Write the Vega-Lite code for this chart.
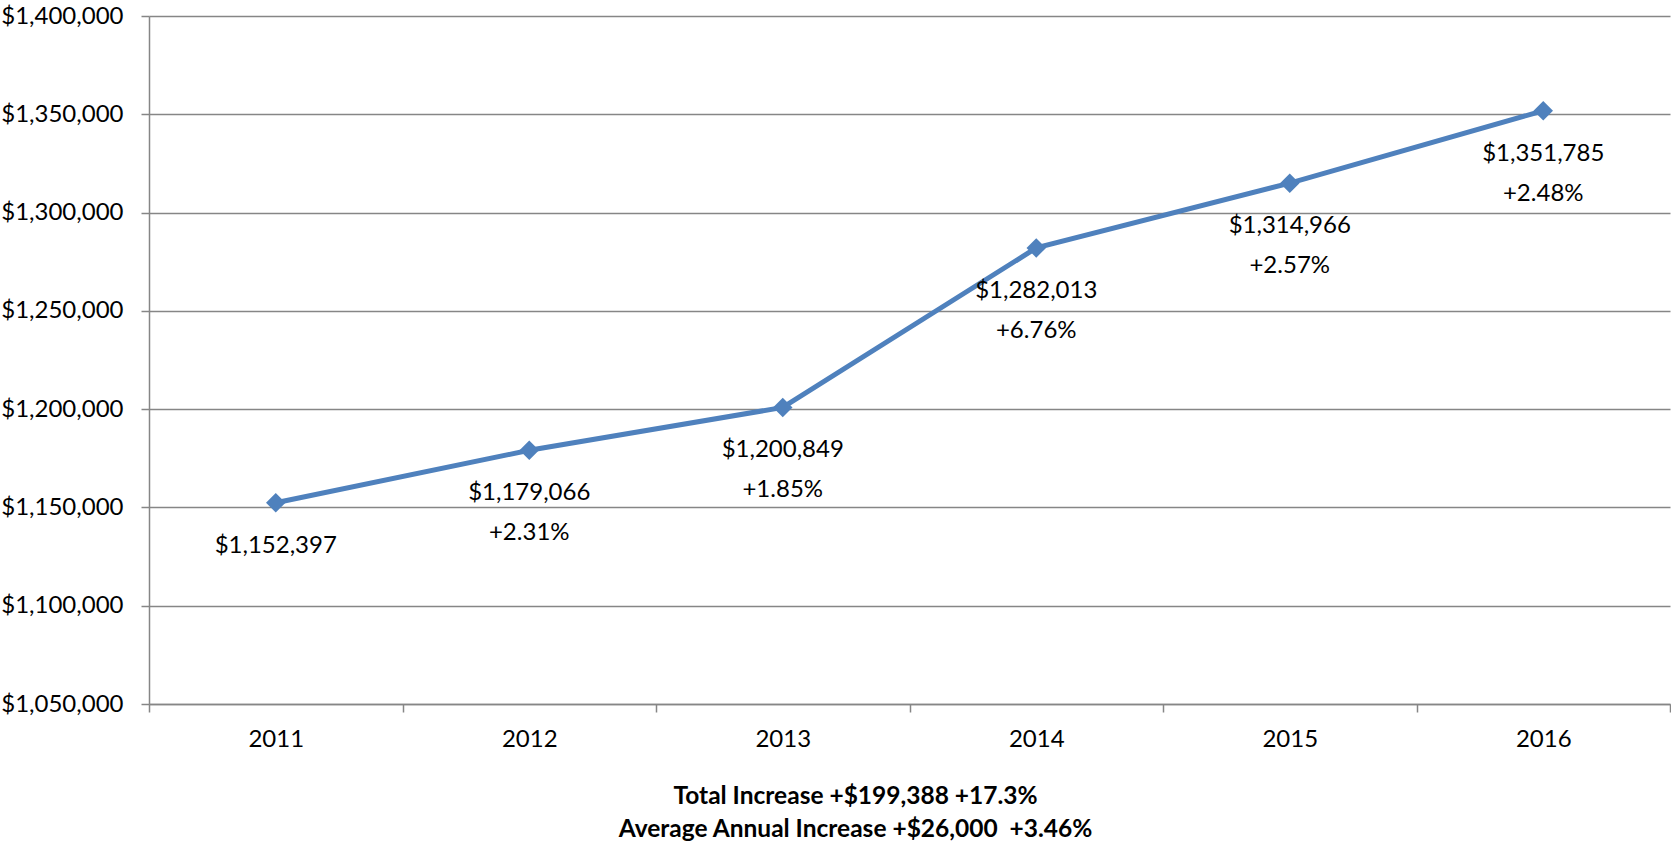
{
  "$schema": "https://vega.github.io/schema/vega-lite/v6.json",
  "width": 1521,
  "height": 688,
  "autosize": {"type": "none"},
  "padding": {"left": 149, "top": 16, "right": 1, "bottom": 147},
  "background": "white",
  "config": {
    "view": {"stroke": null},
    "font": "Lato",
    "axis": {"labelFont": "Lato", "labelFontSize": 24, "labelColor": "#000000", "titleFont": "Lato"}
  },
  "data": {
    "values": [
      {"year": "2011", "value": 1152397, "pct": null},
      {"year": "2012", "value": 1179066, "pct": "+2.31%"},
      {"year": "2013", "value": 1200849, "pct": "+1.85%"},
      {"year": "2014", "value": 1282013, "pct": "+6.76%"},
      {"year": "2015", "value": 1314966, "pct": "+2.57%"},
      {"year": "2016", "value": 1351785, "pct": "+2.48%"}
    ]
  },
  "encoding": {
    "x": {
      "field": "year",
      "type": "ordinal",
      "scale": {"type": "band", "paddingInner": 0, "paddingOuter": 0},
      "axis": {
        "labelAngle": 0,
        "tickBand": "extent",
        "tickSize": 8,
        "tickColor": "#868686",
        "tickWidth": 1.5,
        "domainColor": "#868686",
        "domainWidth": 1.5,
        "labelPadding": 15,
        "grid": false,
        "title": ["Total Increase +$199,388 +17.3%", "Average Annual Increase +$26,000\u00a0\u00a0+3.46%"],
        "titleFontSize": 24.5,
        "titleFontWeight": "bold",
        "titleColor": "#000000",
        "titleLineHeight": 33,
        "titlePadding": 33,
        "titleX": 706
      }
    },
    "y": {
      "field": "value",
      "type": "quantitative",
      "scale": {"domain": [1050000, 1400000], "nice": false, "zero": false},
      "axis": {
        "values": [1050000, 1100000, 1150000, 1200000, 1250000, 1300000, 1350000, 1400000],
        "format": "$,.0f",
        "title": null,
        "grid": true,
        "gridColor": "#868686",
        "gridWidth": 1.5,
        "tickSize": 8,
        "tickColor": "#868686",
        "tickWidth": 1.5,
        "domainColor": "#868686",
        "domainWidth": 1.5,
        "labelPadding": 18
      }
    }
  },
  "layer": [
    {
      "mark": {
        "type": "line",
        "color": "#4F81BD",
        "strokeWidth": 5,
        "point": {"shape": "diamond", "size": 380, "filled": true, "color": "#4F81BD", "opacity": 1}
      }
    },
    {
      "mark": {"type": "text", "dy": 43, "fontSize": 24, "color": "#000000", "font": "Lato"},
      "encoding": {"text": {"field": "value", "type": "quantitative", "format": "$,.0f"}}
    },
    {
      "transform": [{"filter": "datum.pct != null"}],
      "mark": {"type": "text", "dy": 83, "fontSize": 24, "color": "#000000", "font": "Lato"},
      "encoding": {"text": {"field": "pct", "type": "nominal"}}
    }
  ]
}
